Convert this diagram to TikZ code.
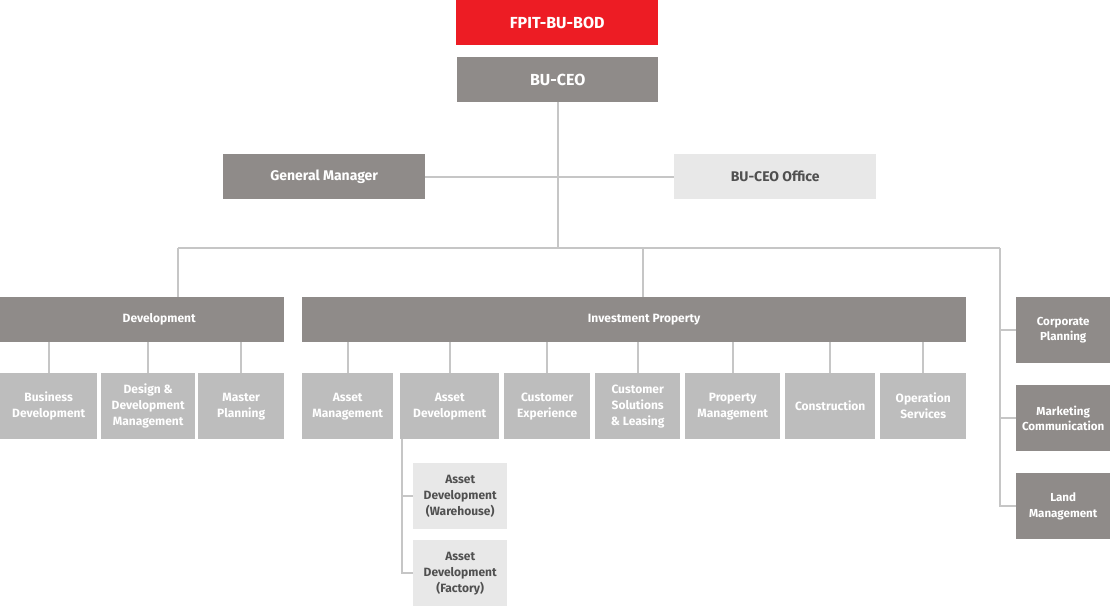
\documentclass[tikz,border=0pt]{standalone}
\usepackage{fontspec}
\setmainfont{Fira Sans}
\definecolor{cred}{HTML}{ED1C24}
\definecolor{cdark}{HTML}{8F8B89}
\definecolor{clight}{HTML}{BDBDBD}
\definecolor{cpale}{HTML}{E8E8E8}
\definecolor{cline}{HTML}{C6C6C6}
\definecolor{ctext}{HTML}{505050}
\begin{document}
\begin{tikzpicture}[x=1pt,y=-1pt,
  box/.style={anchor=north west, inner sep=0pt, align=center, text=white, font=\bfseries},
  top/.style={box, font=\fontsize{16}{18}\selectfont\bfseries},
  mid/.style={box, font=\fontsize{14}{16}\selectfont\bfseries},
  bar/.style={box, fill=cdark, minimum height=45pt, font=\fontsize{12}{14}\selectfont\bfseries},
  kid/.style={box, fill=clight, minimum height=66pt, font=\fontsize{12}{16}\selectfont\bfseries},
  side/.style={box, fill=cdark, minimum width=94pt, minimum height=66pt, font=\fontsize{11.6}{15.5}\selectfont\bfseries},
  sub/.style={box, fill=cpale, text=ctext, minimum width=94pt, minimum height=66pt, font=\fontsize{12}{16}\selectfont\bfseries},
  ln/.style={draw=cline, line width=2.4pt}]
\useasboundingbox (0,0) rectangle (1110,613);
% top
\node[top, fill=cred, minimum width=202pt, minimum height=45pt] (bod) at (456,0) {FPIT-BU-BOD};
\node[top, fill=cdark, minimum width=201pt, minimum height=45pt] (ceo) at (457,57) {BU-CEO};
\node[mid, fill=cdark, minimum width=202pt, minimum height=45pt] (gm) at (223,154) {General Manager};
\node[mid, fill=cpale, text=ctext, minimum width=202pt, minimum height=45pt] (off) at (674,154) {BU-CEO Office};
% bars
\node[bar, minimum width=284pt] (dev) at (0,297) {\hspace*{34pt}Development};
\node[bar, minimum width=664pt] (inv) at (302,297) {\hspace*{20pt}Investment Property};
% development kids
\node[kid, minimum width=97pt] (bd) at (0,373) {Business\\Development};
\node[kid, minimum width=94pt] (ddm) at (101,373) {Design \&\\Development\\Management};
\node[kid, minimum width=86pt] (mp) at (198,373) {Master\\Planning};
% investment kids
\node[kid, minimum width=91pt] (am) at (302,373) {Asset\\Management};
\node[kid, minimum width=99pt] (ad) at (400,373) {Asset\\Development};
\node[kid, minimum width=86pt] (ce) at (504,373) {Customer\\Experience};
\node[kid, minimum width=85pt] (cs) at (595,373) {Customer\\Solutions\\\& Leasing};
\node[kid, minimum width=95pt] (pm) at (685,373) {Property\\Management};
\node[kid, minimum width=90pt] (con) at (785,373) {Construction};
\node[kid, minimum width=86pt] (os) at (880,373) {Operation\\Services};
% sub
\node[sub] (wh) at (413,463) {Asset\\Development\\(Warehouse)};
\node[sub] (fa) at (413,540) {Asset\\Development\\(Factory)};
% side
\node[side] (cp) at (1016,297) {Corporate\\Planning};
\node[side] (mc) at (1016,385) {Marketing\\Communication};
\node[side] (lm) at (1016,473) {Land\\Management};
% coordinates
\coordinate (busL) at (178,248);
\coordinate (busI) at (643,248);
\coordinate (busR) at (1000,248);
\coordinate (adl) at (402,439);
% connectors
\draw[ln] (busL) -- (busR);
\draw[ln] (ceo.south) -- (ceo.south |- busL);
\draw[ln] (gm.east) -- (off.west);
\draw[ln] (busL) -- (busL |- dev.north);
\draw[ln] (busI) -- (busI |- inv.north);
\draw[ln] (busR) |- (lm.west);
\draw[ln] (busR |- cp.west) -- (cp.west);
\draw[ln] (busR |- mc.west) -- (mc.west);
\foreach \k in {bd,ddm,mp}{\draw[ln] (\k.north) -- (\k.north |- dev.south);}
\foreach \k in {am,ad,ce,cs,pm,con,os}{\draw[ln] (\k.north) -- (\k.north |- inv.south);}
\draw[ln] (adl) |- (fa.west);
\draw[ln] (adl |- wh.west) -- (wh.west);
\end{tikzpicture}
\end{document}
